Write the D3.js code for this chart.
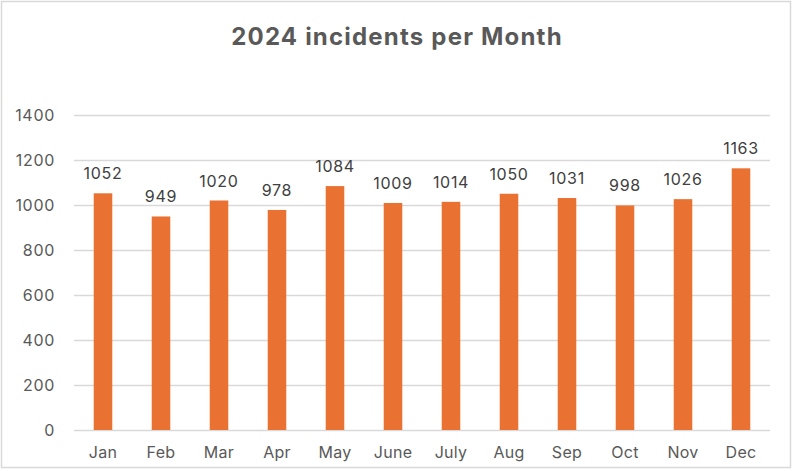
<!DOCTYPE html>
<html><head><meta charset="utf-8">
<script src="https://cdn.jsdelivr.net/npm/d3@7/dist/d3.min.js"></script>
<style>body{margin:0;background:#fff}svg{display:block}</style>
</head><body>
<svg id="c" width="794" height="471"></svg>
<script>
const months = ["Jan","Feb","Mar","Apr","May","June","July","Aug","Sep","Oct","Nov","Dec"];
const incidents = [1052,949,1020,978,1084,1009,1014,1050,1031,998,1026,1163];
const yTicks = [0,200,400,600,800,1000,1200,1400];
const title = "2024 incidents per Month";

const svg = d3.select("#c");
const W = 794, H = 471;
const m = {left:74, right:24, top:115, bottom:41};
svg.append("rect").attr("x",1.5).attr("y",1.5).attr("width",W-5).attr("height",H-5)
  .attr("fill","#fff").attr("stroke","#d9d9d9").attr("stroke-width",1.5);

const x = d3.scaleBand().domain(months).range([m.left, W-m.right]).paddingInner(0.68).paddingOuter(0.34);
const y = d3.scaleLinear().domain([0,1400]).range([H-m.bottom, m.top]);

const font = "Inter, 'Open Sans', sans-serif";

svg.append("text").attr("x",397).attr("y",45).attr("text-anchor","middle")
  .attr("font-family",font).attr("font-weight",700).attr("font-size",24).attr("letter-spacing",1.2)
  .attr("fill","#595959").text(title);

const yAxis = d3.axisLeft(y).tickValues(yTicks).tickFormat(d3.format("d")).tickSize(-(W-m.left-m.right)).tickPadding(19);
const gy = svg.append("g").attr("transform",`translate(${m.left},0)`).call(yAxis);
gy.select(".domain").remove();
gy.selectAll("line").attr("stroke","#d9d9d9").attr("stroke-width",1.5);
gy.selectAll("text").attr("font-family",font).attr("font-size",16).attr("letter-spacing",0.7).attr("fill","#595959");

const xAxis = d3.axisBottom(x).tickSize(0).tickPadding(17);
const gx = svg.append("g").attr("transform",`translate(0,${H-m.bottom})`).call(xAxis);
gx.select(".domain").remove();
gx.selectAll("text").attr("font-family",font).attr("font-size",16).attr("letter-spacing",0.3).attr("fill","#595959");

const data = months.map((mo,i)=>({mo, v:incidents[i]}));
svg.append("g").selectAll("rect").data(data).join("rect")
  .attr("x",d=>x(d.mo)).attr("width",x.bandwidth())
  .attr("y",d=>y(d.v)).attr("height",d=>y(0)-y(d.v)).attr("fill","#E97132");

svg.append("g").selectAll("text").data(data).join("text")
  .attr("x",d=>x(d.mo)+x.bandwidth()/2).attr("y",d=>y(d.v)-14)
  .attr("text-anchor","middle").attr("font-family",font).attr("font-size",16).attr("letter-spacing",0.7).attr("fill","#404040")
  .text(d=>d.v);
</script>
</body></html>
